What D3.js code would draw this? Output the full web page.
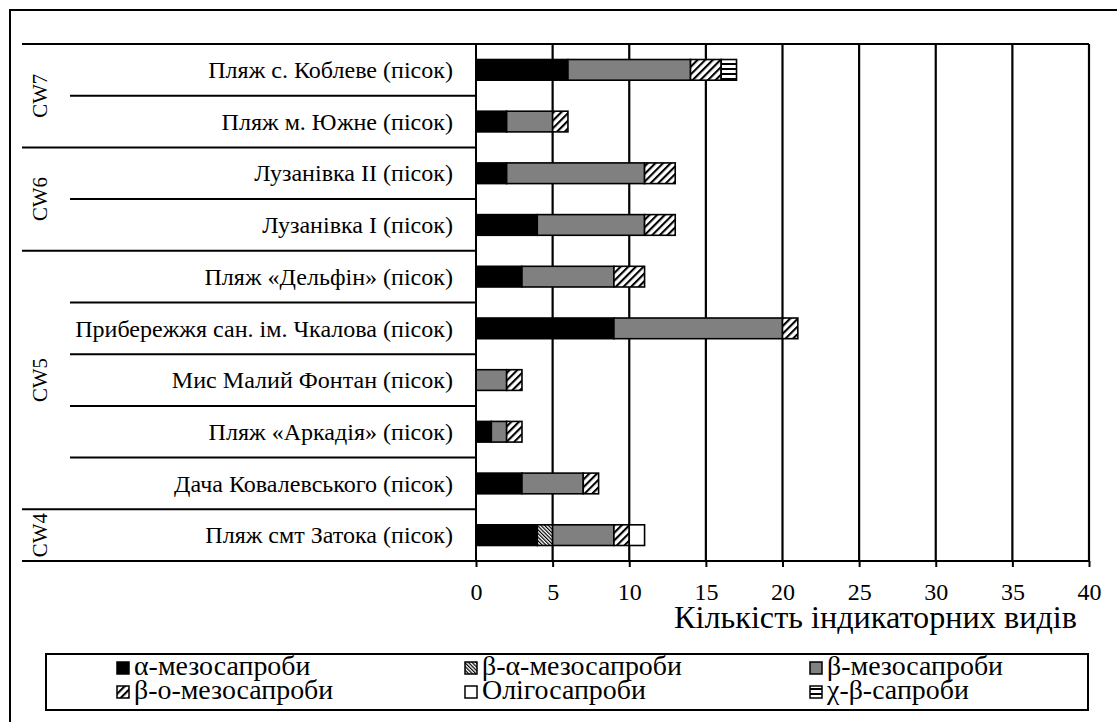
<!DOCTYPE html>
<html>
<head>
<meta charset="utf-8">
<script src="https://cdn.jsdelivr.net/npm/d3@7"></script>
<style>
  html, body { margin: 0; padding: 0; background: #fff; }
  svg { display: block; }
</style>
</head>
<body>
<svg id="chart" width="1117" height="722"></svg>
<script>
// Sampling sites, top to bottom
const categories = [
  "Пляж с. Коблеве (пісок)",
  "Пляж м. Южне (пісок)",
  "Лузанівка II (пісок)",
  "Лузанівка I (пісок)",
  "Пляж «Дельфін» (пісок)",
  "Прибережжя сан. ім. Чкалова (пісок)",
  "Мис Малий Фонтан (пісок)",
  "Пляж «Аркадія» (пісок)",
  "Дача Ковалевського (пісок)",
  "Пляж смт Затока (пісок)"
];

// Number of indicator species per saprobity group
const alphaMeso     = [6, 2, 2, 4, 3, 9, 0, 1, 3, 4];
const betaAlphaMeso = [0, 0, 0, 0, 0, 0, 0, 0, 0, 1];
const betaMeso      = [8, 3, 9, 7, 6, 11, 2, 1, 4, 4];
const betaOMeso     = [2, 1, 2, 2, 2, 1, 1, 1, 1, 1];
const oligo         = [0, 0, 0, 0, 0, 0, 0, 0, 0, 1];
const chiBeta       = [1, 0, 0, 0, 0, 0, 0, 0, 0, 0];

const seriesNames = ["α-мезосапроби", "β-α-мезосапроби", "β-мезосапроби",
                     "β-о-мезосапроби", "Олігосапроби", "χ-β-сапроби"];

// Water body groups: label, first row, last row
const groupLabels = ["CW7", "CW6", "CW5", "CW4"];
const groupFirst  = [0, 2, 4, 9];
const groupLast   = [1, 3, 8, 9];

const xTicks = [0, 5, 10, 15, 20, 25, 30, 35, 40];
const xTitle = "Кількість індикаторних видів";

const seriesValues = [alphaMeso, betaAlphaMeso, betaMeso, betaOMeso, oligo, chiBeta];
const fills = ["#000", "url(#hatchBA)", "#808080", "url(#hatchBO)", "#fff", "url(#hatchCB)"];

// Pick the first installed serif family
function pickFont(cands) {
  const ctx = document.createElement("canvas").getContext("2d");
  const s = "Кількість mmwwlli 0123456789";
  for (const f of cands) {
    for (const base of ["monospace", "sans-serif"]) {
      ctx.font = `40px ${base}`;
      const w0 = ctx.measureText(s).width;
      ctx.font = `40px "${f}", ${base}`;
      if (Math.abs(ctx.measureText(s).width - w0) > 0.5) return `"${f}", serif`;
    }
  }
  return "serif";
}
const FONT = pickFont(["Liberation Serif", "Tinos", "Times New Roman", "Times",
                       "DejaVu Serif", "Noto Serif", "FreeSerif"]);

const svg = d3.select("#chart").style("font-family", FONT);

// Scale a text's font size so that it spans the given width
function fitSize(str, width, base) {
  const t = svg.append("text").style("font-family", FONT).attr("font-size", base).text(str);
  const w = t.node().getComputedTextLength();
  t.remove();
  return base * width / w;
}

// Fill patterns
const defs = svg.append("defs");
const pBO = defs.append("pattern").attr("id", "hatchBO")
  .attr("patternUnits", "userSpaceOnUse").attr("width", 5.4).attr("height", 5.4)
  .attr("patternTransform", "rotate(45)");
pBO.append("rect").attr("width", 5.4).attr("height", 5.4).attr("fill", "#fff");
pBO.append("rect").attr("width", 2.1).attr("height", 5.4).attr("fill", "#000");

const pBA = defs.append("pattern").attr("id", "hatchBA")
  .attr("patternUnits", "userSpaceOnUse").attr("width", 2.6).attr("height", 2.6)
  .attr("patternTransform", "rotate(-45)");
pBA.append("rect").attr("width", 2.6).attr("height", 2.6).attr("fill", "#fff");
pBA.append("rect").attr("width", 1.2).attr("height", 2.6).attr("fill", "#000");

const pCB = defs.append("pattern").attr("id", "hatchCB")
  .attr("patternUnits", "userSpaceOnUse").attr("width", 6).attr("height", 5);
pCB.append("rect").attr("width", 6).attr("height", 5).attr("fill", "#fff");
pCB.append("rect").attr("y", 3).attr("width", 6).attr("height", 2).attr("fill", "#000");

// Outer chart frame
svg.append("rect").attr("x", 10).attr("y", 10).attr("width", 1200).attr("height", 800)
  .attr("fill", "none").attr("stroke", "#000").attr("stroke-width", 2);

const plot = { left: 476, right: 1089, top: 44, bottom: 561 };
const x = d3.scaleLinear().domain([0, 40]).range([plot.left, plot.right]);
const y = d3.scaleBand().domain(categories).range([plot.top, plot.bottom])
  .paddingInner(0.6).paddingOuter(0.3);

// Vertical gridlines
svg.append("g").selectAll("line").data(xTicks.slice(1)).join("line")
  .attr("x1", d => x(d)).attr("x2", d => x(d))
  .attr("y1", plot.top).attr("y2", plot.bottom)
  .attr("stroke", "#000").attr("stroke-width", 2.2);

// Row separators: long at group boundaries, shorter inside groups
const boundaries = d3.range(categories.length + 1);
const groupEdges = new Set([0, ...groupLast.map(d => d + 1)]);
svg.append("g").selectAll("line").data(boundaries).join("line")
  .attr("x1", i => groupEdges.has(i) ? 22 : 70)
  .attr("x2", i => (i === 0 || i === categories.length) ? plot.right : plot.left)
  .attr("y1", i => plot.top + i * y.step()).attr("y2", i => plot.top + i * y.step())
  .attr("stroke", "#000").attr("stroke-width", 2);

// Stacked bars
const rows = categories.map((c, i) => {
  const o = { cat: c };
  seriesNames.forEach((s, k) => o[s] = seriesValues[k][i]);
  return o;
});
const stacked = d3.stack().keys(seriesNames)(rows);
svg.append("g").selectAll("g").data(stacked).join("g")
  .attr("fill", (d, k) => fills[k])
  .selectAll("rect").data(d => d.filter(p => p[1] > p[0])).join("rect")
  .attr("x", p => x(p[0])).attr("width", p => x(p[1]) - x(p[0]))
  .attr("y", p => y(p.data.cat)).attr("height", y.bandwidth())
  .attr("stroke", "#000").attr("stroke-width", 1.6);

// Category axis
const catSize = fitSize(categories[0], 245, 20);
const yAxis = svg.append("g").attr("transform", `translate(${plot.left},0)`)
  .call(d3.axisLeft(y).tickSize(0).tickPadding(23));
yAxis.attr("font-family", null);
yAxis.select(".domain").attr("stroke", "#000").attr("stroke-width", 2)
  .attr("d", `M0,${plot.top}V${plot.bottom}`);
yAxis.selectAll("text").attr("font-size", catSize).attr("dy", "0.34em")
  .style("font-family", FONT);

// Value axis
const xAxis = svg.append("g").attr("transform", `translate(0,${plot.bottom})`)
  .call(d3.axisBottom(x).tickValues(xTicks).tickSize(6).tickPadding(8));
xAxis.attr("font-family", null);
xAxis.select(".domain").remove();
xAxis.selectAll("line").attr("stroke", "#000").attr("stroke-width", 2);
xAxis.selectAll("text").attr("font-size", 24).attr("dy", 0).attr("y", 39)
  .style("font-family", FONT);

svg.append("text").attr("x", 1077).attr("y", 628).attr("text-anchor", "end")
  .style("font-family", FONT)
  .attr("font-size", fitSize(xTitle, 403, 30)).text(xTitle);

// Group labels (rotated)
const grpSize = fitSize("CW7", 44, 20);
groupLabels.forEach((g, k) => {
  const cy = plot.top + (groupFirst[k] + groupLast[k] + 1) / 2 * y.step();
  svg.append("text").attr("transform", `translate(47,${cy}) rotate(-90)`)
    .attr("text-anchor", "middle").style("font-family", FONT)
    .attr("font-size", grpSize).text(g);
});

// Legend
const leg = svg.append("g");
leg.append("rect").attr("x", 46).attr("y", 654).attr("width", 1042).attr("height", 56)
  .attr("fill", "#fff").attr("stroke", "#000").attr("stroke-width", 2);
const legSize = fitSize(seriesNames[1], 200, 24);
const legCols = [117, 465, 810];
const legRows = [675, 699];
seriesNames.forEach((s, k) => {
  const cx = legCols[k % 3], by = legRows[Math.floor(k / 3)];
  leg.append("rect").attr("x", cx).attr("y", by - 13).attr("width", 12).attr("height", 12)
    .attr("fill", fills[k]).attr("stroke", "#000").attr("stroke-width", 1.5);
  leg.append("text").attr("x", cx + 17).attr("y", by).style("font-family", FONT)
    .attr("font-size", legSize).text(s);
});
</script>
</body>
</html>
